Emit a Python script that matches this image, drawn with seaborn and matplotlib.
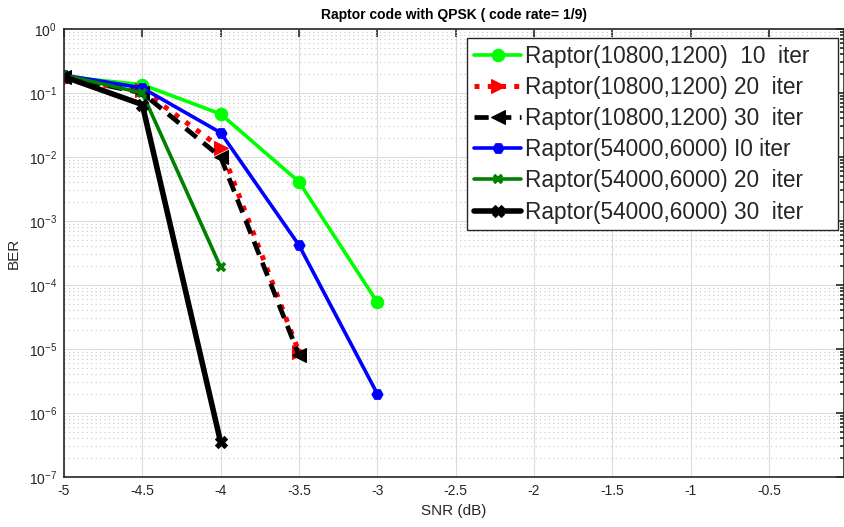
import matplotlib
matplotlib.use("Agg")
import numpy as np
import pandas as pd
import matplotlib.pyplot as plt
import seaborn as sns
from matplotlib.ticker import NullFormatter, FixedLocator

# ---- data ----
snr = [-5, -4.5, -4, -3.5, -3]
ber_10800_10 = [0.18, 0.135, 0.047, 0.0041, 5.4e-5]
ber_10800_20 = [0.16, 0.11, 0.014, 9.0e-6]
ber_10800_30 = [0.18, 0.10, 0.010, 8.0e-6]
ber_54000_10 = [0.19, 0.12, 0.024, 4.2e-4, 2.0e-6]
ber_54000_20 = [0.19, 0.10, 1.9e-4]
ber_54000_30 = [0.18, 0.066, 3.5e-7]

labels = [
    "Raptor(10800,1200)  10  iter",
    "Raptor(10800,1200) 20  iter",
    "Raptor(10800,1200) 30  iter",
    "Raptor(54000,6000) I0 iter",
    "Raptor(54000,6000) 20  iter",
    "Raptor(54000,6000) 30  iter",
]
series = [ber_10800_10, ber_10800_20, ber_10800_30,
          ber_54000_10, ber_54000_20, ber_54000_30]

styles = [
    dict(color="#00ff00", linestyle="-", linewidth=2.6, marker="o", markersize=9),
    dict(color="#ff0000", linestyle=":", linewidth=3.6, marker=">", markersize=10),
    dict(color="#000000", linestyle=(0, (3, 1.8)), linewidth=3.4, marker="<", markersize=10),
    dict(color="#0000ff", linestyle="-", linewidth=2.6, marker="H", markersize=8),
    dict(color="#008000", linestyle="-", linewidth=2.6, marker="x", markersize=6, markeredgewidth=2.6),
    dict(color="#000000", linestyle="-", linewidth=4, marker="X", markersize=8),
]

sns.set_theme(style="white")
plt.rcParams["font.family"] = ["Liberation Sans", "DejaVu Sans"]
plt.rcParams["mathtext.default"] = "regular"

fig = plt.figure(figsize=(8.45, 5.27), dpi=100)
ax = fig.add_axes([64 / 845, 50 / 527, 780 / 845, 448 / 527])

for lab, ys, st in zip(labels, series, styles):
    df = pd.DataFrame({"SNR": snr[:len(ys)], "BER": ys})
    sns.lineplot(data=df, x="SNR", y="BER", ax=ax, label=lab,
                 markeredgecolor=st["color"], **st)

ax.set_yscale("log")
ax.set_ylim(1e-7, 1)
ax.set_xlim(-5, -0.02)

xt = np.arange(-5, 0, 0.5)
ax.xaxis.set_major_locator(FixedLocator(xt))
ax.set_xticklabels([f"{v:g}" for v in xt])

# decades 1e-7 .. 1e0, minor ticks at 2..9 within each decade
decades = np.arange(-7, 1)
ax.yaxis.set_major_locator(FixedLocator(10.0 ** decades))
ax.set_yticklabels([f"$10^{{{d}}}$" for d in decades])
minor = [m * 10.0 ** d for d in decades[:-1] for m in range(2, 10)]
ax.yaxis.set_minor_locator(FixedLocator(minor))
ax.yaxis.set_minor_formatter(NullFormatter())

ax.grid(True, which="major", color="#dcdcdc", linewidth=0.8, linestyle="-")
ax.grid(True, which="minor", axis="y", color="#c8c8c8", linewidth=0.8, linestyle=(0, (1, 3)))
ax.set_axisbelow(True)

ax.tick_params(which="both", direction="in", top=True, right=True,
               labelsize=10, colors="#262626", width=1.2)
ax.tick_params(which="major", length=6, pad=5)
ax.tick_params(which="minor", length=3)
for sp in ax.spines.values():
    sp.set_color("#262626")
    sp.set_linewidth(1.2)

ax.set_xlabel("SNR (dB)", fontsize=11, color="#262626", labelpad=4)
ax.set_ylabel("BER", fontsize=11, color="#262626", labelpad=6)
ax.set_title("Raptor code with QPSK ( code rate= 1/9)", fontsize=10,
             fontweight="bold", color="black", pad=7)

leg = ax.legend(loc="upper left", fontsize=16.3, frameon=True, fancybox=False,
                edgecolor="#262626", framealpha=1, handlelength=2.1,
                handletextpad=0.15, borderpad=0.3, labelspacing=0.36,
                bbox_to_anchor=(0.5167, 0.98, 0.4756, 0), mode="expand",
                borderaxespad=0)
leg.get_frame().set_linewidth(1.0)

fig.savefig("out.png", dpi=100)
